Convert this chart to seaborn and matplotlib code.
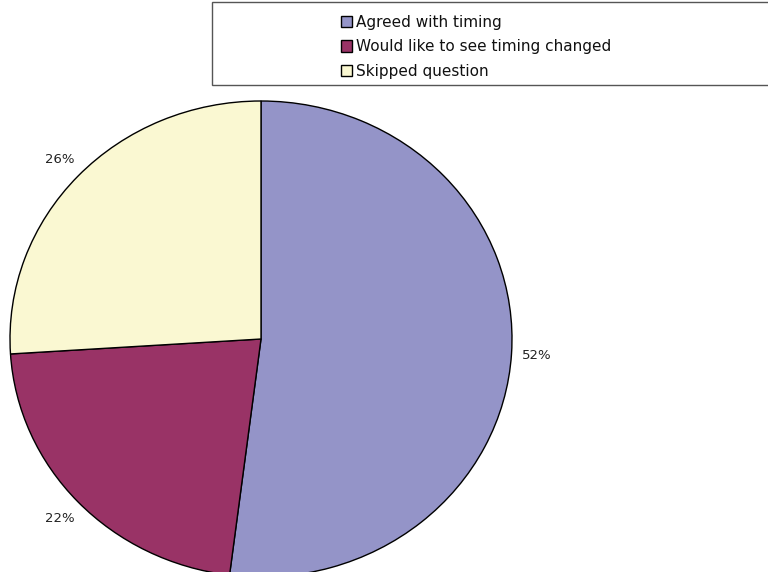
import matplotlib
matplotlib.use("Agg")
import matplotlib.pyplot as plt
from matplotlib.patches import Patch, Rectangle
import seaborn as sns

categories = ["Agreed with timing", "Would like to see timing changed", "Skipped question"]
values = [52, 22, 26]
colors = ["#9494C8", "#993366", "#FAF8D2"]

sns.set_theme(style="white")
plt.rcParams["font.family"] = ["DejaVu Sans"]

W, H = 768, 572
fig = plt.figure(figsize=(W / 100, H / 100), dpi=100)
# axes placed in pixel coords: pie ellipse spans x 10..512, y 101..577
ax = fig.add_axes([10 / W, (H - 577) / H, 502 / W, 476 / H])
wedges, texts, autotexts = ax.pie(
    values, colors=colors, startangle=90, counterclock=False,
    autopct="%d%%", pctdistance=1.10, radius=1,
    wedgeprops=dict(edgecolor="black", linewidth=1.0),
    textprops=dict(fontsize=9.5, color="#222222"),
)
ax.set_aspect("auto")
ax.set_xlim(-1, 1)
ax.set_ylim(-1, 1)
ax.axis("off")

# legend frame
fig.patches.append(Rectangle((212 / W, (H - 85) / H), 570 / W, 83 / H,
                             transform=fig.transFigure, facecolor="white",
                             edgecolor="#555555", linewidth=1.0, zorder=0))
handles = [Patch(facecolor=c, edgecolor="black", linewidth=1.0) for c in colors]
leg = fig.legend(handles, categories, loc="upper left",
                 bbox_to_anchor=(330 / W, (H - 4) / H), frameon=False,
                 fontsize=11, handlelength=0.75, handleheight=0.75,
                 handletextpad=0.25, labelspacing=0.63, borderpad=0.2)
for t in leg.get_texts():
    t.set_color("#111111")

fig.savefig("out.png", dpi=100)
